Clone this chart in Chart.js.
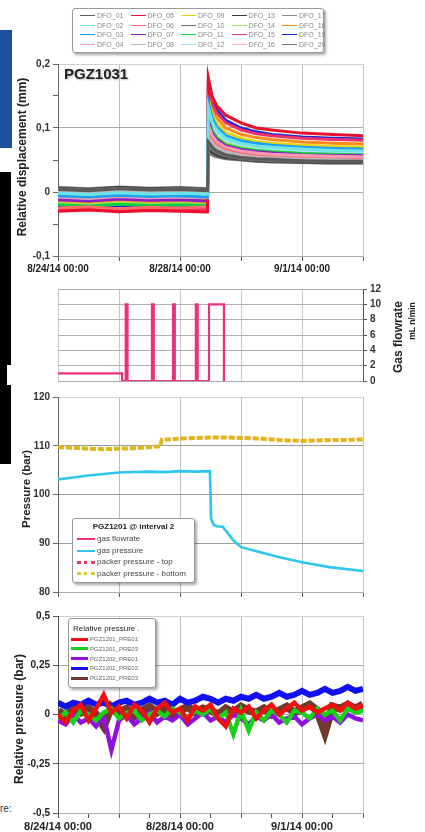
<!DOCTYPE html>
<html>
<head>
<meta charset="utf-8">
<script src="https://cdn.jsdelivr.net/npm/chart.js@4.4.1/dist/chart.umd.min.js"></script>
<style>
  html, body { margin: 0; padding: 0; }
  body { width: 425px; height: 832px; position: relative; overflow: hidden; background: #fff;
         font-family: "Liberation Sans", Arial, sans-serif; }
  canvas { position: absolute; left: 0; }
  .abs { position: absolute; }
  .ytitle { position: absolute; font-weight: bold; color: #222; white-space: nowrap;
            transform: translate(-50%, -50%) rotate(-90deg); }
  .lg { position: absolute; background: #fff; border: 1px solid #999; border-radius: 3px;
        box-shadow: 2px 2px 3px rgba(0,0,0,0.35); }
  .row { position: absolute; white-space: nowrap; display: flex; align-items: center; }
  .sw { display: inline-block; height: 0; margin-right: 2px; }
</style>
</head>
<body>
<!-- bits of the scanned page around the figure -->
<div class="abs" style="left:0;top:30px;width:12px;height:118px;background:#1d4f9c"></div>
<div class="abs" style="left:0;top:172px;width:11px;height:292px;background:#000"></div>
<div class="abs" style="left:7px;top:365px;width:4px;height:20px;background:#fff"></div>
<div class="abs" style="left:0;top:803px;font-size:10px;color:#333">re:</div>

<canvas id="c1" width="425" height="225" style="top:55px"></canvas>
<canvas id="c2" width="425" height="110" style="top:280px"></canvas>
<canvas id="c3" width="425" height="215" style="top:388px"></canvas>
<canvas id="c4" width="425" height="227" style="top:605px"></canvas>

<div class="abs" style="left:64px;top:65px;font-size:15px;font-weight:bold;color:#222;text-shadow:1px 1px 2px #bbb">PGZ1031</div>
<div class="ytitle" style="left:22px;top:157px;font-size:12px">Relative displacement (mm)</div>
<div class="ytitle" style="left:26px;top:489px;font-size:11.5px">Pressure (bar)</div>
<div class="ytitle" style="left:19px;top:719px;font-size:12px">Relative pressure (bar)</div>
<div class="ytitle" style="left:398px;top:337px;font-size:12px">Gas flowrate</div>
<div class="ytitle" style="left:412px;top:321px;font-size:8.5px">mL n/min</div>

<div id="lg1" class="lg" style="left:72px;top:8px;width:250px;height:43px"></div>
<div id="lg3" class="lg" style="left:72px;top:518px;width:121px;height:63px"></div>
<div id="lg4" class="lg" style="left:68px;top:618px;width:86px;height:68px"></div>

<script>
// x axis: days since 8/24/14 00:00
const xTickDays = [0, 4, 8];
const xTickLabels = ['8/24/14 00:00', '8/28/14 00:00', '9/1/14 00:00'];

// ---- panel 1: DFO displacement (mm) ----
const dfoTimes = [0, 1, 2, 3, 4, 4.9, 4.93, 5.05, 5.2, 5.5, 6, 6.5, 7, 8, 9, 10];
const dfo01 = [0.004, 0.002, 0.005, 0.003, 0.004, 0.002, 0.078, 0.070, 0.064, 0.058, 0.054, 0.052, 0.051, 0.049, 0.048, 0.048];
const dfo02 = [-0.002, -0.004, -0.001, -0.003, -0.002, -0.003, 0.132, 0.110, 0.097, 0.084, 0.076, 0.072, 0.070, 0.067, 0.065, 0.064];
const dfo03 = [-0.006, -0.008, -0.005, -0.007, -0.006, -0.008, 0.140, 0.116, 0.102, 0.088, 0.080, 0.076, 0.073, 0.070, 0.068, 0.067];
const dfo04 = [-0.008, -0.010, -0.007, -0.009, -0.008, -0.009, 0.105, 0.089, 0.079, 0.070, 0.064, 0.061, 0.059, 0.057, 0.056, 0.055];
const dfo05 = [-0.030, -0.028, -0.031, -0.029, -0.030, -0.031, 0.178, 0.150, 0.135, 0.120, 0.108, 0.100, 0.097, 0.092, 0.090, 0.088];
const dfo06 = [-0.025, -0.023, -0.026, -0.024, -0.025, -0.023, 0.100, 0.085, 0.076, 0.068, 0.062, 0.059, 0.058, 0.056, 0.055, 0.054];
const dfo07 = [-0.012, -0.014, -0.011, -0.013, -0.012, -0.014, 0.110, 0.092, 0.082, 0.072, 0.066, 0.063, 0.061, 0.058, 0.057, 0.057];
const dfo08 = [0.001, -0.001, 0.002, 0.000, 0.001, -0.001, 0.090, 0.078, 0.070, 0.063, 0.058, 0.056, 0.054, 0.052, 0.051, 0.051];
const dfo09 = [-0.010, -0.012, -0.009, -0.011, -0.010, -0.012, 0.145, 0.122, 0.108, 0.093, 0.084, 0.079, 0.076, 0.073, 0.071, 0.070];
const dfo10 = [0.005, 0.003, 0.006, 0.004, 0.005, 0.003, 0.072, 0.066, 0.061, 0.056, 0.052, 0.050, 0.049, 0.048, 0.047, 0.047];
const dfo11 = [-0.020, -0.022, -0.019, -0.021, -0.020, -0.021, 0.115, 0.096, 0.085, 0.074, 0.068, 0.065, 0.063, 0.060, 0.059, 0.058];
const dfo12 = [-0.004, -0.002, -0.005, -0.003, -0.004, -0.002, 0.128, 0.106, 0.093, 0.081, 0.074, 0.070, 0.068, 0.065, 0.063, 0.062];
const dfo13 = [0.006, 0.004, 0.007, 0.005, 0.006, 0.004, 0.068, 0.062, 0.058, 0.054, 0.051, 0.049, 0.048, 0.047, 0.046, 0.046];
const dfo14 = [-0.018, -0.020, -0.017, -0.019, -0.018, -0.020, 0.120, 0.100, 0.088, 0.077, 0.071, 0.067, 0.065, 0.062, 0.061, 0.060];
const dfo15 = [-0.027, -0.025, -0.028, -0.026, -0.027, -0.026, 0.165, 0.138, 0.124, 0.108, 0.097, 0.091, 0.088, 0.084, 0.082, 0.081];
const dfo16 = [-0.001, 0.001, -0.002, 0.000, -0.001, 0.001, 0.095, 0.082, 0.073, 0.065, 0.060, 0.057, 0.056, 0.054, 0.053, 0.052];
const dfo17 = [0.003, 0.001, 0.004, 0.002, 0.003, 0.001, 0.085, 0.075, 0.067, 0.061, 0.056, 0.054, 0.053, 0.051, 0.050, 0.049];
const dfo18 = [-0.015, -0.017, -0.014, -0.016, -0.015, -0.017, 0.155, 0.130, 0.116, 0.100, 0.090, 0.085, 0.082, 0.078, 0.076, 0.075];
const dfo19 = [-0.022, -0.024, -0.021, -0.023, -0.022, -0.024, 0.170, 0.142, 0.128, 0.112, 0.100, 0.094, 0.090, 0.086, 0.084, 0.083];
const dfo20 = [0.007, 0.005, 0.008, 0.006, 0.007, 0.005, 0.062, 0.058, 0.055, 0.052, 0.050, 0.048, 0.047, 0.046, 0.045, 0.045];
const dfoSeries = [dfo01, dfo02, dfo03, dfo04, dfo05, dfo06, dfo07, dfo08, dfo09, dfo10,
                   dfo11, dfo12, dfo13, dfo14, dfo15, dfo16, dfo17, dfo18, dfo19, dfo20];
const dfoNames = ['DFO_01', 'DFO_02', 'DFO_03', 'DFO_04', 'DFO_05', 'DFO_06', 'DFO_07', 'DFO_08', 'DFO_09', 'DFO_10',
                  'DFO_11', 'DFO_12', 'DFO_13', 'DFO_14', 'DFO_15', 'DFO_16', 'DFO_17', 'DFO_18', 'DFO_19', 'DFO_20'];
const dfoColors = ['#5a5a5a', '#6fe3e8', '#1fa0f0', '#f59ab5', '#e8102c', '#ff6a6a', '#8a1fc8', '#b8b8b8', '#e8d40a', '#6e6e6e',
                   '#10d040', '#9fe8f5', '#3c3c3c', '#a6e35a', '#f0306a', '#ffb3c6', '#8a8a8a', '#ff8a1a', '#1428e0', '#757575'];

// ---- panel 2: gas flowrate (mL n/min) ----
const flowTimes = [0, 2.1, 2.1, 2.22, 2.22, 2.28, 2.28, 3.08, 3.08, 3.14, 3.14, 3.77, 3.77, 3.83, 3.83,
                   4.52, 4.52, 4.58, 4.58, 4.95, 4.95, 5.44, 5.44];
const flowValues = [1, 1, 0, 0, 10, 10, 0, 0, 10, 10, 0, 0, 10, 10, 0, 0, 10, 10, 0, 0, 10, 10, 0];

// ---- panel 3: pressures (bar) ----
const gasTimes = [0, 0.5, 1, 1.5, 2, 2.5, 3, 3.5, 4, 4.5, 4.98, 5.02, 5.1, 5.2, 5.4, 5.55, 5.75, 6, 6.6, 7.3, 8, 8.9, 10];
const gasPressure = [103.1, 103.5, 103.9, 104.2, 104.5, 104.6, 104.7, 104.6, 104.8, 104.7, 104.8, 95.0, 93.8, 93.5,
                     93.4, 92.2, 90.6, 89.2, 88.2, 87.1, 86.1, 85.1, 84.3];
const packerTimes = [0, 0.5, 1, 1.5, 2, 2.5, 3, 3.35, 3.4, 3.8, 4.5, 5, 5.5, 6, 6.5, 7, 7.5, 8, 8.5, 9, 9.5, 10];
const packerBottom = [109.7, 109.6, 109.4, 109.3, 109.4, 109.5, 109.7, 109.9, 111.2, 111.4, 111.6, 111.7, 111.7, 111.6,
                      111.5, 111.3, 111.1, 111.0, 111.1, 111.2, 111.2, 111.3];
const packerTop = [109.8, 109.7, 109.5, 109.4, 109.5, 109.6, 109.8, 110.0, 111.3, 111.5, 111.7, 111.8, 111.8, 111.7,
                   111.6, 111.4, 111.2, 111.1, 111.2, 111.3, 111.3, 111.4];

// ---- panel 4: relative pressure (bar), every 6 h ----
const relTimes = [0, 0.25, 0.5, 0.75, 1, 1.25, 1.5, 1.75, 2, 2.25, 2.5, 2.75, 3, 3.25, 3.5, 3.75, 4, 4.25, 4.5, 4.75,
                  5, 5.25, 5.5, 5.75, 6, 6.25, 6.5, 6.75, 7, 7.25, 7.5, 7.75, 8, 8.25, 8.5, 8.75, 9, 9.25, 9.5, 9.75, 10];
const pgz1201Pre01 = [0.00, -0.04, 0.02, 0.05, -0.03, 0.03, 0.10, 0.01, 0.04, -0.02, 0.05, 0.02, -0.04, 0.03, 0.06, 0.01,
                      0.03, -0.03, 0.04, 0.02, 0.05, -0.02, -0.06, 0.03, 0.01, 0.04, -0.02, 0.02, 0.05, 0.00, 0.03, 0.06,
                      0.02, 0.04, 0.01, 0.03, 0.05, 0.02, 0.06, 0.03, 0.05];
const pgz1201Pre03 = [-0.02, 0.01, -0.04, 0.02, 0.00, -0.03, 0.01, 0.03, -0.02, 0.01, 0.02, -0.03, 0.00, 0.02, -0.01, 0.03,
                      0.01, -0.02, 0.02, 0.00, 0.03, -0.02, 0.01, -0.10, 0.02, -0.08, 0.01, -0.03, 0.02, 0.00, -0.04, 0.02,
                      0.01, -0.02, 0.03, 0.00, 0.02, -0.03, 0.03, 0.01, 0.02];
const pgz1202Pre01 = [-0.03, -0.05, 0.00, -0.04, -0.02, -0.06, -0.01, -0.18, -0.03, 0.00, -0.05, -0.02, 0.01, -0.04, -0.01, -0.03,
                      0.00, -0.05, -0.02, 0.01, -0.03, -0.01, -0.04, 0.00, -0.02, -0.05, -0.01, -0.03, 0.00, -0.04, -0.02, -0.01,
                      -0.05, -0.02, 0.00, -0.03, -0.01, -0.04, 0.00, -0.02, -0.03];
const pgz1202Pre02 = [0.06, 0.04, 0.06, 0.05, 0.07, 0.05, 0.06, 0.04, 0.06, 0.07, 0.05, 0.06, 0.08, 0.06, 0.07, 0.05,
                      0.08, 0.06, 0.07, 0.09, 0.08, 0.06, 0.08, 0.07, 0.09, 0.08, 0.10, 0.08, 0.09, 0.11, 0.09, 0.10,
                      0.12, 0.10, 0.11, 0.13, 0.11, 0.12, 0.14, 0.12, 0.13];
const pgz1202Pre03 = [0.02, -0.01, 0.03, 0.01, 0.03, 0.00, -0.06, 0.04, 0.01, 0.03, -0.01, 0.02, 0.04, 0.01, 0.03, 0.00,
                      0.02, 0.04, 0.01, 0.03, 0.02, 0.00, 0.03, 0.01, 0.04, 0.02, 0.01, 0.03, 0.00, 0.02, 0.04, 0.01,
                      0.03, 0.05, 0.02, -0.09, 0.04, 0.03, 0.05, 0.03, 0.05];
const relNames = ['PGZ1201_PRE01', 'PGZ1201_PRE03', 'PGZ1202_PRE01', 'PGZ1202_PRE02', 'PGZ1202_PRE03'];
const relColors = ['#f01010', '#18d018', '#9010e0', '#1010f0', '#6e3a2c'];
const relSeries = [pgz1201Pre01, pgz1201Pre03, pgz1202Pre01, pgz1202Pre02, pgz1202Pre03];
const relWidths = [4.5, 4.5, 4.5, 6, 8];

// ----------------------------------------------------------------
Chart.defaults.font.family = '"Liberation Sans", Arial, sans-serif';
Chart.defaults.animation = false;
Chart.defaults.responsive = false;
Chart.defaults.plugins.legend.display = false;
Chart.defaults.plugins.tooltip.enabled = false;
Chart.defaults.elements.point.radius = 0;
Chart.defaults.elements.line.tension = 0;

const pts = (xs, ys) => xs.map((x, i) => ({ x: x, y: ys[i] }));
const comma = v => String(Math.round(v * 100) / 100).replace('.', ',');

function xAxis(step, height, fontSize, showLabels) {
  return {
    type: 'linear', min: 0, max: 10,
    afterFit: s => { s.height = height; },
    ticks: {
      stepSize: step, autoSkip: false, maxRotation: 0, padding: 2,
      color: '#222', font: { size: fontSize, weight: 'bold' },
      callback: v => {
        if (!showLabels) return '';
        const k = xTickDays.indexOf(Math.round(v * 100) / 100);
        return k >= 0 ? xTickLabels[k] : '';
      }
    },
    grid: {
      tickLength: 5, tickColor: '#555',
      color: c => {
        const v = c.tick.value;
        if (v === 0 || v === 10) return '#c4c4c4';
        return Math.round(v) % 2 === 0 ? '#bdbdbd' : 'rgba(0,0,0,0)';
      }
    },
    border: { display: true, color: '#aaa' }
  };
}

// panel 1
new Chart(document.getElementById('c1'), {
  type: 'line',
  data: {
    datasets: dfoSeries.map((s, i) => ({
      label: dfoNames[i], data: pts(dfoTimes, s),
      borderColor: dfoColors[i], borderWidth: 3
    }))
  },
  options: {
    layout: { padding: { top: 7, right: 62, left: 0, bottom: 0 } },
    scales: {
      x: xAxis(2, 24, 10, true),
      y: {
        min: -0.1, max: 0.2,
        afterFit: s => { s.width = 58; },
        ticks: {
          stepSize: 0.05, padding: 3, color: '#333', font: { size: 10, weight: 'bold' },
          callback: v => Math.abs(Math.round(v * 100)) % 10 === 0 ? comma(v) : ''
        },
        grid: {
          tickLength: 5, tickColor: '#666',
          color: c => {
            const r = Math.round(c.tick.value * 100);
            if (r === 20 || r === -10) return '#d0d0d0';
            return r % 10 === 0 ? '#a8a8a8' : 'rgba(0,0,0,0)';
          }
        },
        border: { display: true, color: '#666' }
      }
    }
  }
});

// panel 2
new Chart(document.getElementById('c2'), {
  type: 'line',
  data: {
    datasets: [{ label: 'gas flowrate', data: pts(flowTimes, flowValues), borderColor: '#ee2f7c', borderWidth: 2.2 }]
  },
  options: {
    layout: { padding: { top: 8, right: 0, left: 58, bottom: 0 } },
    scales: {
      x: Object.assign(xAxis(2, 5, 10, false), { grid: { drawTicks: false, color: c => (c.tick.value === 10 ? 'rgba(0,0,0,0)' : '#c8c8c8') } }),
      y: {
        position: 'right', min: 0, max: 12,
        afterFit: s => { s.width = 62; },
        ticks: { stepSize: 2, padding: 3, color: '#333', font: { size: 10, weight: 'bold' } },
        grid: { tickLength: 4, tickColor: '#555', color: '#b0b0b0' },
        border: { display: true, color: '#555' }
      }
    }
  }
});

// panel 3
new Chart(document.getElementById('c3'), {
  type: 'line',
  data: {
    datasets: [
      { label: 'gas pressure', data: pts(gasTimes, gasPressure), borderColor: '#2fc6ee', borderWidth: 2.6 },
      { label: 'packer pressure - bottom', data: pts(packerTimes, packerBottom), borderColor: '#e2b51c', borderWidth: 4, borderDash: [6, 2] },
      { label: 'packer pressure - top', data: pts(packerTimes, packerTop), borderColor: '#9b4a1e', borderWidth: 1.8, borderDash: [2, 6] }
    ]
  },
  options: {
    layout: { padding: { top: 8, right: 62, left: 0, bottom: 0 } },
    scales: {
      x: xAxis(2, 11, 10, false),
      y: {
        min: 80, max: 120,
        afterFit: s => { s.width = 58; },
        ticks: { stepSize: 10, padding: 3, color: '#333', font: { size: 10, weight: 'bold' } },
        grid: {
          tickLength: 5, tickColor: '#666',
          color: c => (c.tick.value === 120 ? '#d0d0d0' : '#9a9a9a')
        },
        border: { display: true, color: '#666' }
      }
    }
  }
});

// panel 4
new Chart(document.getElementById('c4'), {
  type: 'line',
  data: {
    datasets: relSeries.map((s, i) => ({
      label: relNames[i], data: pts(relTimes, s), borderColor: relColors[i], borderWidth: relWidths[i]
    }))
  },
  options: {
    layout: { padding: { top: 11, right: 62, left: 0, bottom: 0 } },
    scales: {
      x: xAxis(1, 19, 11, true),
      y: {
        min: -0.5, max: 0.5,
        afterFit: s => { s.width = 58; },
        ticks: { stepSize: 0.25, padding: 3, color: '#222', font: { size: 10, weight: 'bold' }, callback: v => comma(v) },
        grid: {
          tickLength: 5, tickColor: '#555',
          color: c => (Math.abs(c.tick.value) === 0.5 ? '#d0d0d0' : '#a8a8a8')
        },
        border: { display: true, color: '#555' }
      }
    }
  }
});

// ---- legends (html) ----
function row(parent, top, left, swW, swCss, text, fontPx, color) {
  const r = document.createElement('div');
  r.className = 'row';
  r.style.top = top + 'px';
  r.style.left = left + 'px';
  r.style.fontSize = fontPx + 'px';
  r.style.color = color;
  r.style.lineHeight = '1';
  const sw = document.createElement('span');
  sw.className = 'sw';
  sw.style.width = swW + 'px';
  sw.style.borderTop = swCss;
  const t = document.createElement('span');
  t.textContent = text;
  r.appendChild(sw);
  r.appendChild(t);
  parent.appendChild(r);
}

const lg1 = document.getElementById('lg1');
dfoNames.forEach((n, i) => {
  const col = Math.floor(i / 4), rw = i % 4;
  row(lg1, 3 + rw * 9.6, 7 + col * 50.5, 15, '1.5px solid ' + dfoColors[i], n, 7, '#8a8a8a');
});

const lg3 = document.getElementById('lg3');
const t3 = document.createElement('div');
t3.textContent = 'PGZ1201 @ interval 2';
t3.style.cssText = 'position:absolute;left:0;right:0;top:3px;text-align:center;font-size:8px;font-weight:bold;color:#222';
lg3.appendChild(t3);
const lg3Items = [
  ['gas flowrate', '2.5px solid #ee2f7c'],
  ['gas pressure', '2.5px solid #2fc6ee'],
  ['packer pressure - top', '3px dotted #e0405a'],
  ['packer pressure - bottom', '3px dotted #d8c82a']
];
lg3Items.forEach((it, i) => row(lg3, 16 + i * 11.6, 4, 18, it[1], it[0], 8, '#444'));

const lg4 = document.getElementById('lg4');
const t4 = document.createElement('div');
t4.textContent = 'Relative pressure .';
t4.style.cssText = 'position:absolute;left:4px;top:5px;font-size:8px;color:#222';
lg4.appendChild(t4);
relNames.forEach((n, i) => row(lg4, 17 + i * 9.8, 2, 17, '3px solid ' + relColors[i], n, 6, '#666'));
</script>
</body>
</html>
